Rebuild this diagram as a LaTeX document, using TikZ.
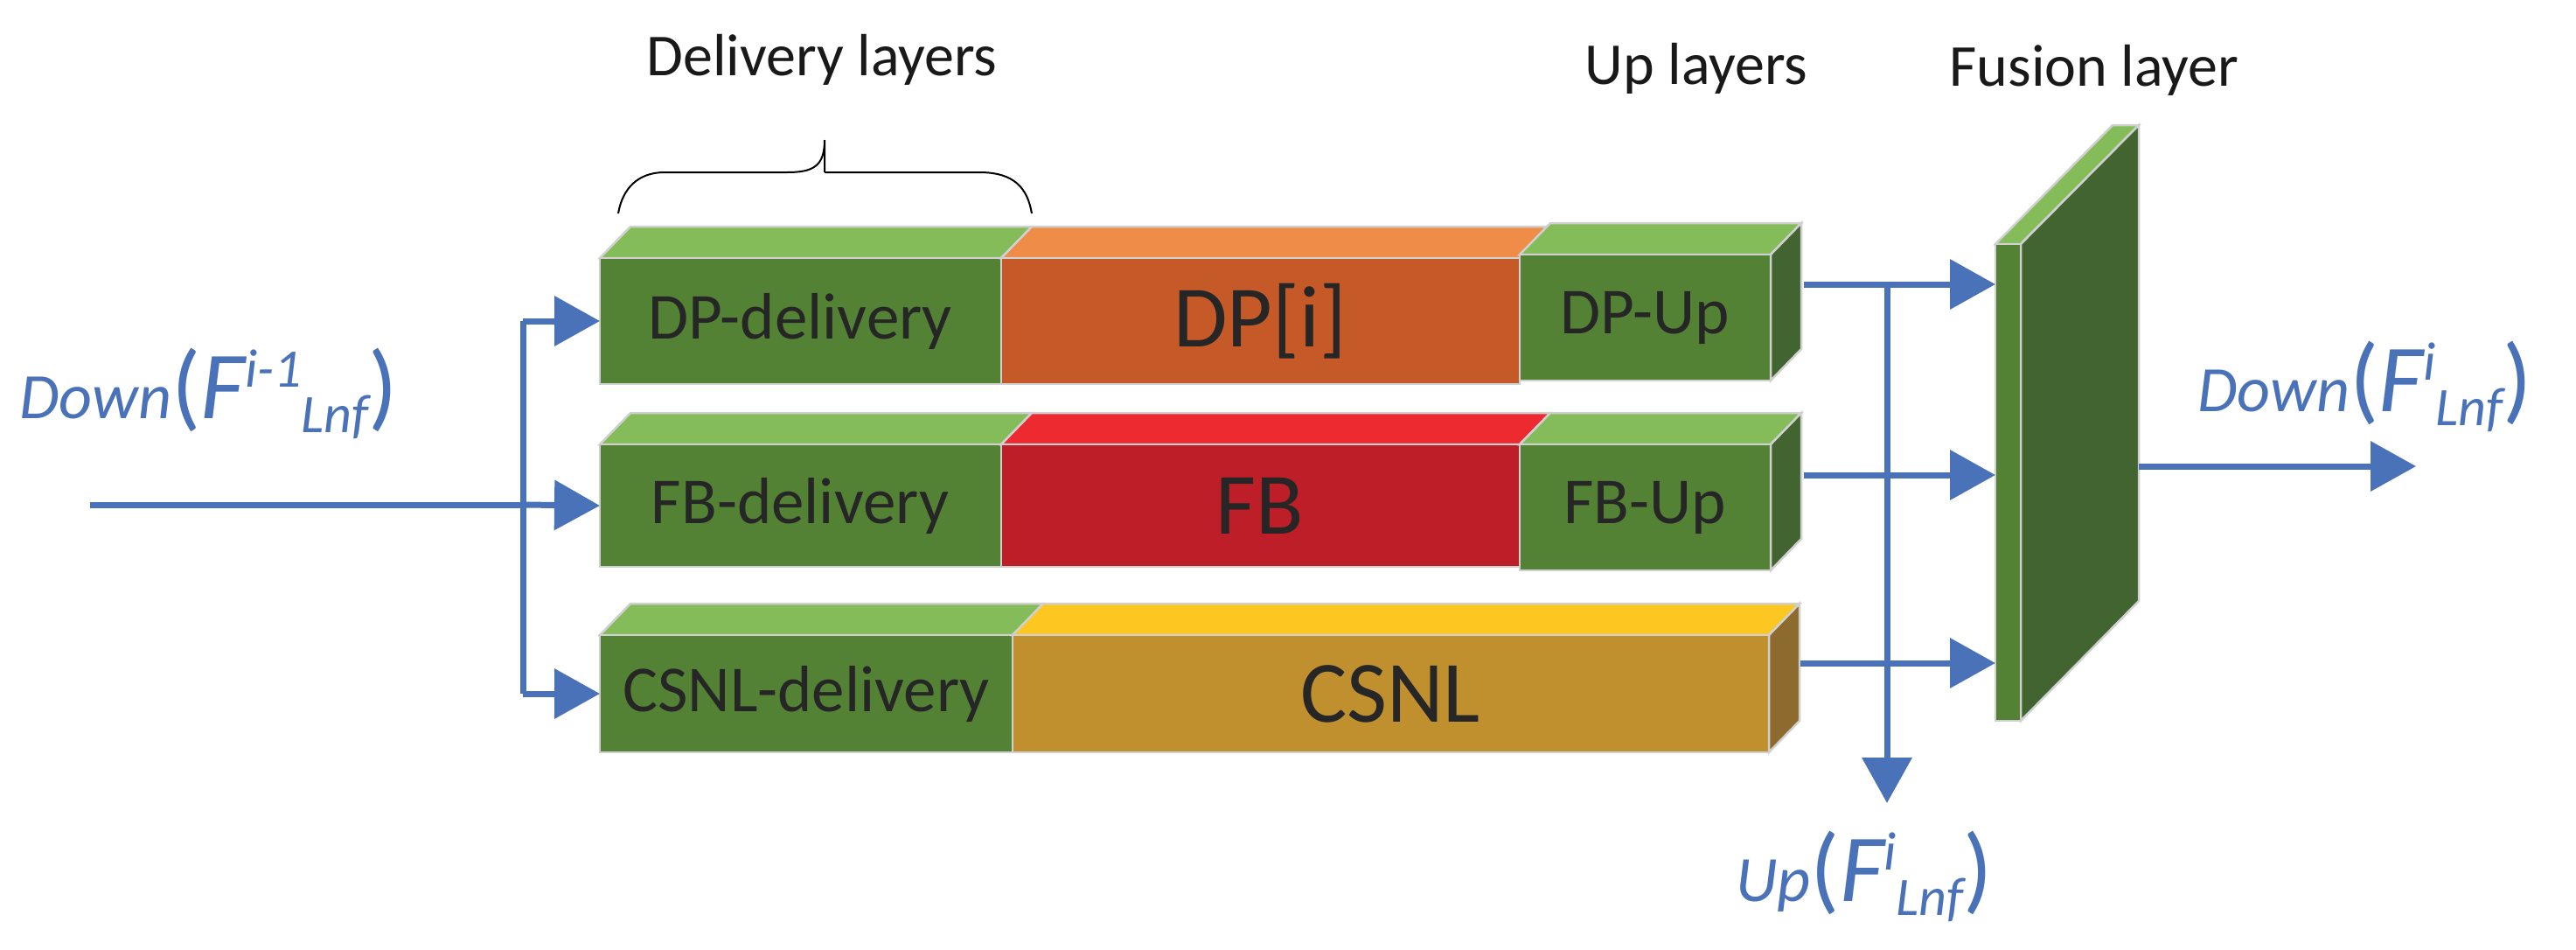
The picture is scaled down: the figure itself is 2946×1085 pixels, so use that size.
\documentclass[tikz,border=0pt]{standalone}
\usepackage{fontspec}
\setmainfont{Carlito}
\usetikzlibrary{arrows.meta}
\definecolor{gf}{HTML}{548235}\definecolor{gt}{HTML}{84BC5A}\definecolor{gs}{HTML}{416431}
\definecolor{of}{HTML}{C55A28}\definecolor{ot}{HTML}{EE8C48}
\definecolor{rf}{HTML}{BE1E27}\definecolor{rt}{HTML}{EC2A30}
\definecolor{yf}{HTML}{C0902F}\definecolor{yt}{HTML}{FCC720}\definecolor{ys}{HTML}{8D6B2E}
\definecolor{bl}{HTML}{4A72B8}\definecolor{eg}{HTML}{D0D0D0}
\newcommand{\myblock}[6]{% x1 y1 x2 y2 front top
 \fill[#6,draw=eg,line width=2.5pt] (#1,#2)--(#1+35,#2-36)--(#3+35,#2-36)--(#3,#2)--cycle;
 \fill[#5,draw=eg,line width=2.5pt] (#1,#2) rectangle (#3,#4);}
\newcommand{\myside}[5]{% x2 y1 y2 side
 \fill[#4,draw=eg,line width=2.5pt] (#1,#2)--(#1+35,#2-36)--(#1+35,#3-36)--(#1,#3)--cycle;}
\tikzset{x=1pt,y=-1pt,
 lbl/.style={font=\fontsize{75}{80}\selectfont,text=black!85},
 big/.style={font=\fontsize{100}{110}\selectfont,text=black!85},
 ttl/.style={font=\fontsize{68}{72}\selectfont,text=black!90},
 conn/.style={draw=bl,line width=7pt},
 arr/.style={conn,-{Triangle[length=52pt,width=56pt]}},
 mth/.style={text=bl,font=\fontsize{74}{80}\selectfont\itshape,inner sep=0pt}}
\begin{document}
\begin{tikzpicture}
\useasboundingbox (0,0) rectangle (2946,1085);
% row 1
\myblock{686}{295}{1145}{439}{gf}{gt}
\myblock{1145}{295}{1738}{439}{of}{ot}
\myblock{1738}{291}{2025}{435}{gf}{gt}
\myside{2025}{291}{435}{gs}{}
% row 2
\myblock{686}{508}{1145}{648}{gf}{gt}
\myblock{1145}{508}{1738}{648}{rf}{rt}
\myblock{1738}{508}{2025}{652}{gf}{gt}
\myside{2025}{508}{652}{gs}{}
% row 3
\myblock{686}{726}{1158}{860}{gf}{gt}
\myblock{1158}{726}{2023}{860}{yf}{yt}
\myside{2023}{726}{860}{ys}{}
% texts
\node[lbl] (dpd) at (915,367) {DP-delivery};
\node[big] (dpi) at (1441,367) {DP[i]};
\node[lbl] (dpu) at (1881,363) {DP-Up};
\node[lbl] (fbd) at (915,578) {FB-delivery};
\node[big] (fb) at (1441,578) {FB};
\node[lbl] (fbu) at (1881,580) {FB-Up};
\node[lbl] (csd) at (922,793) {CSNL-delivery};
\node[big] (cs) at (1590,793) {CSNL};
% fusion
\fill[gt,draw=eg,line width=2.5pt] (2282,279)--(2416,143)--(2446,143)--(2311,279)--cycle;
\fill[gs,draw=eg,line width=2.5pt] (2311,279)--(2446,143)--(2446,687)--(2311,824)--cycle;
\fill[gf,draw=eg,line width=2.5pt] (2282,279) rectangle (2311,824);
% titles
\node[ttl] (t1) at (940,68) {Delivery layers};
\node[ttl] (t2) at (1940,78) {Up layers};
\node[ttl] (t3) at (2395,80) {Fusion layer};
\draw[line width=2pt] (707,244) .. controls (712,215) and (730,197) .. (760,197) -- (900,197)
  .. controls (930,197) and (943,190) .. (943,160)
  (943,197) -- (943,160)
  (943,197) -- (1120,197) .. controls (1160,197) and (1175,215) .. (1180,244);
% left connectors
\coordinate (in) at (103,577);
\coordinate (jl) at (598,577);
\coordinate (ja) at (598,367);
\coordinate (jc) at (598,793);
\coordinate (e1) at (686,367);
\coordinate (e2) at (686,578);
\coordinate (e3) at (686,793);
\draw[conn] (in) -- (jl);
\draw[conn] (ja) -- (jc);
\draw[arr] (ja) -- (e1);
\draw[arr] (jl) -- (e2);
\draw[arr] (jc) -- (e3);
% right connectors
\coordinate (o1) at (2063,325);\coordinate (f1) at (2282,325);
\coordinate (o2) at (2063,543);\coordinate (f2) at (2282,543);
\coordinate (o3) at (2059,758);\coordinate (f3) at (2282,758);
\coordinate (vt) at (2158,325);\coordinate (vb) at (2158,918);
\coordinate (fo) at (2446,533);\coordinate (ot) at (2763,533);
\draw[arr] (o1) -- (f1);
\draw[arr] (o2) -- (f2);
\draw[arr] (o3) -- (f3);
\draw[arr] (vt) -- (vb);
\draw[arr] (fo) -- (ot);
% math labels
\node[mth,anchor=base west] (lin) at (22,478) {Down\fontsize{110}{110}\selectfont\upshape(\itshape F\raisebox{36pt}{\fontsize{62}{62}\selectfont i-1}\raisebox{-16pt}{\fontsize{62}{62}\selectfont Lnf}\upshape)};
\node[mth,anchor=base west] (lout) at (2513,470) {Down\fontsize{110}{110}\selectfont\upshape(\itshape F\raisebox{36pt}{\fontsize{62}{62}\selectfont i}\raisebox{-16pt}{\fontsize{62}{62}\selectfont Lnf}\upshape)};
\node[mth,anchor=base west] (lup) at (1985,1030) {Up\fontsize{110}{110}\selectfont\upshape(\itshape F\raisebox{36pt}{\fontsize{62}{62}\selectfont i}\raisebox{-16pt}{\fontsize{62}{62}\selectfont Lnf}\upshape)};
\end{tikzpicture}
\end{document}
